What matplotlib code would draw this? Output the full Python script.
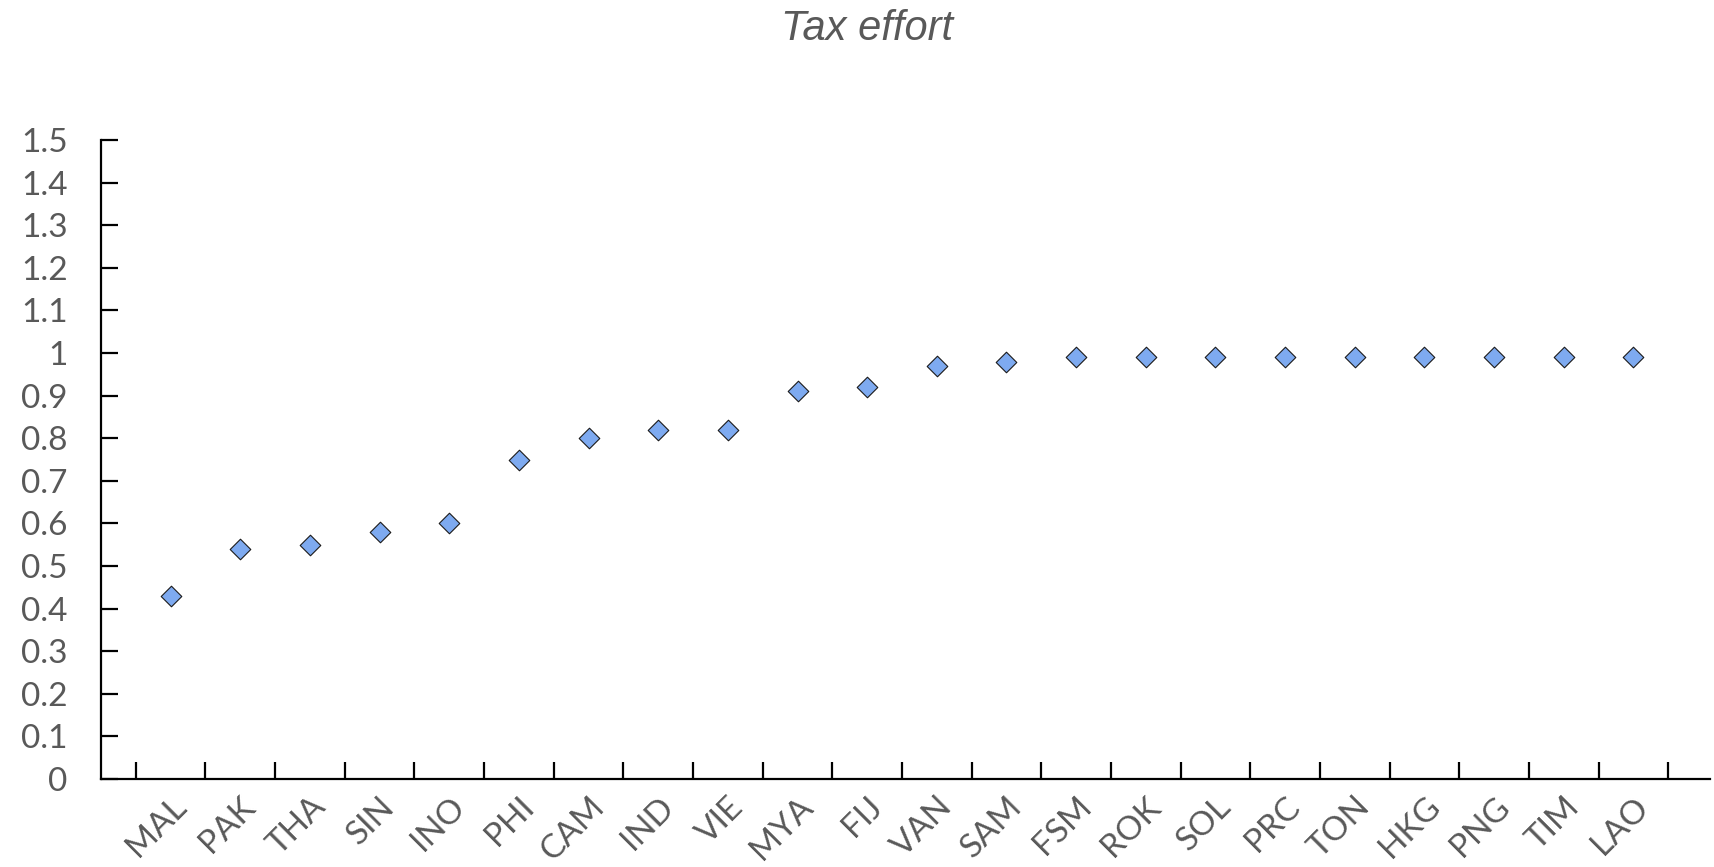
import numpy as np
import matplotlib.pyplot as plt
from matplotlib.ticker import FixedLocator, NullFormatter

countries = ["MAL", "PAK", "THA", "SIN", "INO", "PHI", "CAM", "IND", "VIE", "MYA", "FIJ",
             "VAN", "SAM", "FSM", "ROK", "SOL", "PRC", "TON", "HKG", "PNG", "TIM", "LAO"]
tax_effort = [0.43, 0.54, 0.55, 0.58, 0.60, 0.75, 0.80, 0.82, 0.82, 0.91, 0.92,
              0.97, 0.98, 0.99, 0.99, 0.99, 0.99, 0.99, 0.99, 0.99, 0.99, 0.99]
yticks = [0, 0.1, 0.2, 0.3, 0.4, 0.5, 0.6, 0.7, 0.8, 0.9, 1, 1.1, 1.2, 1.3, 1.4, 1.5]

grey = "#595959"
fig = plt.figure(figsize=(17.14, 8.67), dpi=100)
ax = fig.add_axes([101/1714, 1 - 779/867, 1609/1714, 639/867])

x = np.arange(len(countries))
ax.scatter(x, tax_effort, marker="D", s=110, color="#7eaaf0", edgecolors="#1a1a1a",
           linewidths=0.8, zorder=3)

ax.set_xlim(-1.0, 22.1)
ax.set_ylim(0, 1.5)
for s in ["top", "right"]:
    ax.spines[s].set_visible(False)
for s in ["left", "bottom"]:
    ax.spines[s].set_linewidth(1.6)
    ax.spines[s].set_color("black")

# category boundaries get the tick marks, centres get the labels
ax.xaxis.set_major_locator(FixedLocator(np.arange(len(countries) + 1) - 0.5))
ax.xaxis.set_major_formatter(NullFormatter())
ax.xaxis.set_minor_locator(FixedLocator(x))
ax.set_xticklabels(countries, minor=True, rotation=45, ha="right",
                   rotation_mode="anchor", fontsize=24, color=grey, family="Lato")
ax.tick_params(axis="x", which="minor", length=0, pad=9)
ax.tick_params(axis="x", which="major", direction="in", length=12, width=1.6)

ax.set_yticks(yticks)
ax.set_yticklabels([f"{v:g}" for v in yticks], fontsize=24, color=grey, family="Lato")
ax.tick_params(axis="y", direction="in", length=12, width=1.6, pad=24)

fig.text(0.506, 0.967, "Tax effort", ha="center", va="center", fontsize=30,
         style="italic", color=grey, family="Liberation Sans")

fig.savefig("out.png", dpi=100)
